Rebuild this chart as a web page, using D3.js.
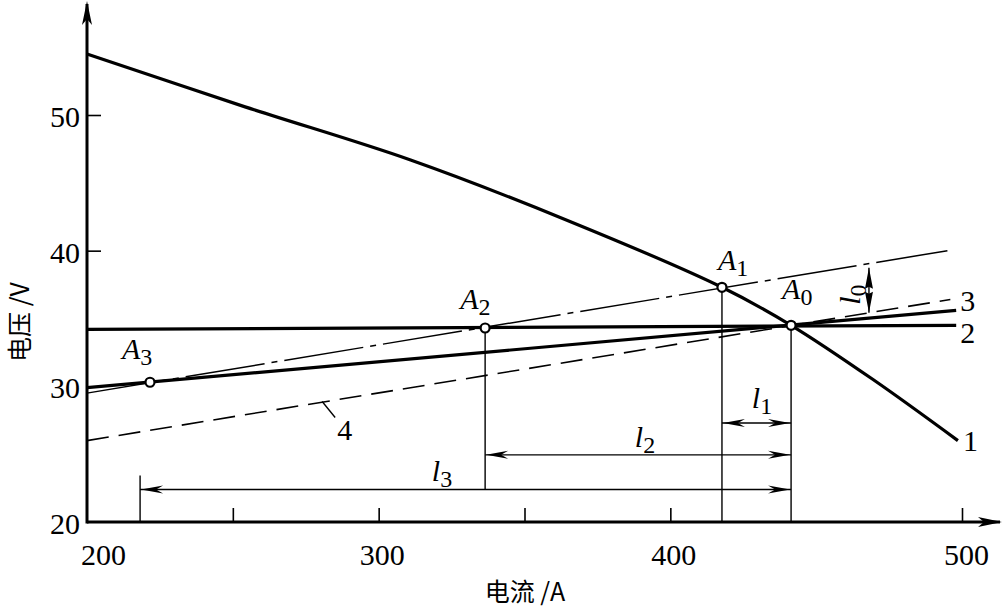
<!DOCTYPE html>
<html><head><meta charset="utf-8">
<script src="https://cdn.jsdelivr.net/npm/d3@7"></script>
</head>
<body style="margin:0">
<svg id="c" width="1003" height="612" font-family="Liberation Serif"></svg>
<script>
// ---- data ----
const xDomain = [200, 500];
const yDomain = [20, 50];
const xTickLabels = [200, 300, 400, 500];
const xTickMarks = [250, 300, 350, 400, 500];
const yTickLabels = [20, 30, 40, 50];
const yTickMarks = [30, 40, 50];
// curve 1: source characteristic
const curve1 = [[200,54.5],[254.2,50.6],[310.7,46.7],[363.9,42.3],[417.7,37.3],[441.4,34.5],[469.5,30.5],[498.6,26.0]];
// line 2, line 3 (thick), dash-dot line, line 4 (dashed)
const line2 = [[200,34.2],[498,34.5]];
const line3 = [[200,29.9],[498,35.6]];
const lineDashDot = [[200,29.5],[495,40.0]];
const line4 = [[200,26.0],[496,36.4]];
// operating points
const points = [
  {name:"A", sub:"0", p:[441.4,34.5]},
  {name:"A", sub:"1", p:[417.7,37.3]},
  {name:"A", sub:"2", p:[336.5,34.3]},
  {name:"A", sub:"3", p:[221.6,30.3]}
];
// dimension lines: [from I, to I, at V]
const dims = [
  {name:"l", sub:"1", from:417.7, to:441.4, v:27.3},
  {name:"l", sub:"2", from:336.5, to:441.4, v:24.95},
  {name:"l", sub:"3", from:218.2, to:441.4, v:22.4}
];
const l0 = {i:468.1};
const curveLabels = [["1",499,26.0],["2",498,34.5],["3",498,35.6]];

const SERIF = "Liberation Serif";
const CJK = "Noto Sans CJK SC";

// ---- scales ----
const svg = d3.select("#c");
const x = d3.scaleLinear().domain(xDomain).range([87, 962]);
const y = d3.scaleLinear().domain(yDomain).range([522, 115]);
const line = d3.line().x(d=>x(d[0])).y(d=>y(d[1]));

function serif(sel){ return sel.attr("font-family",SERIF).style("font-family",`"${SERIF}"`); }
function arrowHead(g, tx, ty, angle, len, hw, notch){
  const c = Math.cos(angle), s = Math.sin(angle);
  const pt = (a,b)=>[tx + a*c - b*s, ty + a*s + b*c];
  const p = [pt(0,0), pt(-len,-hw), pt(-len+notch,0), pt(-len,hw)];
  g.append("path").attr("d","M"+p.map(q=>q.join(",")).join("L")+"Z").attr("fill","#000");
}
function lerpV(seg, i){
  return seg[0][1] + (seg[1][1]-seg[0][1])*(i-seg[0][0])/(seg[1][0]-seg[0][0]);
}
function label(parent, attrs, main, sub, size){
  const t = serif(parent.append("text")).attr("font-size",size||30).attr("fill","#000");
  Object.entries(attrs).forEach(([k,v])=>t.attr(k,v));
  serif(t.append("tspan")).attr("font-style","italic").text(main);
  if(sub!==undefined) serif(t.append("tspan")).attr("font-size",(size||30)*0.8).attr("dy",6).text(sub);
  return t;
}

// ---- axes ----
const ax = svg.append("g");
ax.append("line").attr("x1",x(200)).attr("x2",1000).attr("y1",y(20)).attr("y2",y(20)).attr("stroke","#000").attr("stroke-width",3);
ax.append("line").attr("x1",x(200)).attr("x2",x(200)).attr("y1",y(20)+1.5).attr("y2",4).attr("stroke","#000").attr("stroke-width",3);
arrowHead(ax, 1002, y(20), 0, 24, 5, 6);
arrowHead(ax, x(200), 1, -Math.PI/2, 24, 5, 6);

const xAxisMarks = d3.axisTop(x).tickValues(xTickMarks).tickSize(14).tickFormat("");
const gxm = svg.append("g").attr("transform",`translate(0,${y(20)})`).call(xAxisMarks);
gxm.select(".domain").remove();
gxm.selectAll(".tick line").attr("stroke","#000").attr("stroke-width",1.6);

const xAxisLabels = d3.axisBottom(x).tickValues(xTickLabels).tickSize(0).tickPadding(22);
const gxl = svg.append("g").attr("transform",`translate(0,${y(20)})`).call(xAxisLabels);
gxl.attr("font-family",SERIF).attr("font-size",30);
gxl.select(".domain").remove();
serif(gxl.selectAll(".tick text")).attr("font-size",30).attr("fill","#000")
  .attr("dx", d => d===200 ? 16 : (d===500 ? 4 : 3));

const yAxisMarks = d3.axisRight(y).tickValues(yTickMarks).tickSize(14).tickFormat("");
const gym = svg.append("g").attr("transform",`translate(${x(200)},0)`).call(yAxisMarks);
gym.select(".domain").remove();
gym.selectAll(".tick line").attr("stroke","#000").attr("stroke-width",1.6);

const yAxisLabels = d3.axisLeft(y).tickValues(yTickLabels).tickSize(0).tickPadding(7);
const gyl = svg.append("g").attr("transform",`translate(${x(200)},0)`).call(yAxisLabels);
gyl.attr("font-family",SERIF).attr("font-size",30);
gyl.select(".domain").remove();
serif(gyl.selectAll(".tick text")).attr("font-size",30).attr("fill","#000").attr("dy","0.38em");

// axis titles
svg.append("text").attr("x",525).attr("y",601).attr("text-anchor","middle").attr("font-size",25)
  .attr("font-family",CJK).text("电流 /A");
svg.append("text").attr("transform","translate(29,322) rotate(-90)").attr("text-anchor","middle").attr("font-size",25)
  .attr("font-family",CJK).text("电压 /V");

// ---- lines ----
const lg = svg.append("g").attr("fill","none").attr("stroke","#000");
lg.append("path").datum(lineDashDot).attr("d",line).attr("stroke-width",1.5).attr("stroke-dasharray","80,7,6,7");
lg.append("path").datum(line4).attr("d",line).attr("stroke-width",1.6).attr("stroke-dasharray","22,10");
lg.append("path").datum(line2).attr("d",line).attr("stroke-width",3.2);
lg.append("path").datum(line3).attr("d",line).attr("stroke-width",3.2);
const smooth = d3.line().x(d=>x(d[0])).y(d=>y(d[1])).curve(d3.curveCatmullRom.alpha(0.5));
lg.append("path").datum(curve1).attr("d",smooth).attr("stroke-width",3.2);

// leader for label 4
const i4 = 282;
const v4 = lerpV(line4, i4);
lg.append("line").attr("x1",x(i4)-4).attr("y1",y(v4)).attr("x2",x(i4)+9).attr("y2",y(v4)+16).attr("stroke-width",1.4);
serif(svg.append("text")).attr("x",x(i4)+11).attr("y",y(v4)+38).attr("font-size",30).text("4");

// curve number labels
curveLabels.forEach(([t,i,v],k)=>{
  serif(svg.append("text")).attr("x",x(i)+4).attr("y",y(v)+ (k===0?10:(k===1?18:1))).attr("font-size",30).text(t);
});

// ---- vertical reference lines ----
const vg = svg.append("g").attr("stroke","#000").attr("stroke-width",1.4);
const pA0 = points[0].p, pA1 = points[1].p, pA2 = points[2].p;
vg.append("line").attr("x1",x(pA0[0])).attr("x2",x(pA0[0])).attr("y1",y(pA0[1])).attr("y2",y(20));
vg.append("line").attr("x1",x(pA1[0])).attr("x2",x(pA1[0])).attr("y1",y(pA1[1])).attr("y2",y(20));
vg.append("line").attr("x1",x(pA2[0])).attr("x2",x(pA2[0])).attr("y1",y(pA2[1])).attr("y2",y(dims[2].v));
vg.append("line").attr("x1",x(dims[2].from)).attr("x2",x(dims[2].from)).attr("y1",y(dims[2].v)-14).attr("y2",y(20));

// ---- dimension lines ----
const dg = svg.append("g");
dims.forEach((d,k)=>{
  const x1 = x(d.from), x2 = x(d.to), yy = y(d.v);
  dg.append("line").attr("x1",x1).attr("x2",x2).attr("y1",yy).attr("y2",yy).attr("stroke","#000").attr("stroke-width",1.4);
  arrowHead(dg, x1+1, yy, Math.PI, 22, 4, 7);
  arrowHead(dg, x2-1, yy, 0, 22, 4, 7);
  const lx = [762, 645, 442][k], ly = [408, 447, 481][k];
  label(svg, {x:lx, y:ly, "text-anchor":"middle"}, d.name, d.sub);
});

// l0 arrow
const vTop = lerpV(lineDashDot, l0.i), vBot = lerpV(line4, l0.i);
const lx0 = x(l0.i);
dg.append("line").attr("x1",lx0).attr("x2",lx0).attr("y1",y(vTop)+4).attr("y2",y(vBot)).attr("stroke","#000").attr("stroke-width",1.4);
arrowHead(dg, lx0, y(vTop)+4, -Math.PI/2, 21, 4, 2);
arrowHead(dg, lx0, y(vBot), Math.PI/2, 21, 4, 2);
label(svg, {transform:`translate(${lx0-9},${y(vBot)-8}) rotate(-90)`}, "l", "0");

// ---- points ----
const pg = svg.append("g");
const labelOff = [[-9,-26],[-4,-17],[-25,-19],[-28,-23]];
points.forEach((pt,k)=>{
  pg.append("circle").attr("cx",x(pt.p[0])).attr("cy",y(pt.p[1])).attr("r",4.5)
    .attr("fill","#fff").attr("stroke","#000").attr("stroke-width",2.2);
  label(svg, {x:x(pt.p[0])+labelOff[k][0], y:y(pt.p[1])+labelOff[k][1]}, pt.name, pt.sub);
});
</script>
</body></html>
